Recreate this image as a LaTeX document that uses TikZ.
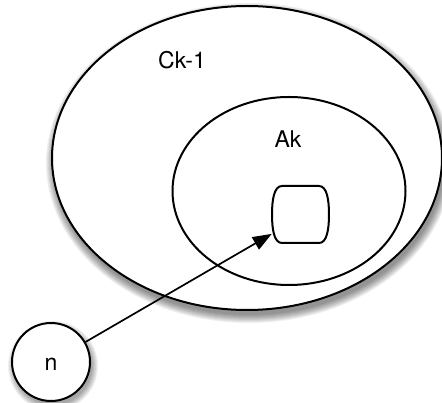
\documentclass[tikz,border=0pt]{standalone}
\usepackage{fontspec}
\setmainfont{TeX Gyre Heros}
\usetikzlibrary{shapes.geometric,arrows.meta}
\begin{document}
\begin{tikzpicture}[x=1pt,y=-1pt,
  setshape/.style={draw=black,line width=2pt,fill=white,inner sep=0pt},
  shadowlayer/.style={fill=black,fill opacity=0.06,draw=none},
  label/.style={font=\fontsize{23}{27}\selectfont,inner sep=0pt},
  link/.style={line width=1.7pt,-{Triangle[length=19pt,width=14pt]}}]
  \useasboundingbox (0,0) rectangle (442,403);

  % soft shadow under the outer set
  \foreach \r in {1,...,9}
    \fill[shadowlayer] (249,163) ellipse ({195+9-\r} and {152+9-\r});

  % outer set C_{k-1}
  \node[setshape,ellipse,minimum width=390pt,minimum height=304pt]
    (outer) at (247,158) {};
  \node[label] (ck) at (182,60) {Ck-1};

  % inner set A_k
  \node[setshape,ellipse,minimum width=233pt,minimum height=188pt]
    (inner) at (289,191) {};
  \node[label] (ak) at (288,139) {Ak};

  % element inside A_k: flat top and bottom, bulging sides
  \node[inner sep=0pt,minimum width=57pt,minimum height=57pt]
    (elem) at (300.5,214.5) {};
  \draw[line width=2pt,fill=white]
    (282,186) -- (319,186)
    .. controls (327,186) and (329,200) .. (329,214.5)
    .. controls (329,229) and (327,243) .. (319,243)
    -- (282,243)
    .. controls (274,243) and (272,229) .. (272,214.5)
    .. controls (272,200) and (274,186) .. cycle;

  % soft shadow under element n
  \foreach \r in {1,...,7}
    \fill[shadowlayer] (53,366) circle ({39+7-\r});

  % element n
  \node[setshape,circle,minimum size=78pt] (n) at (51,362) {};
  \node[label] (nlab) at (51,364) {n};

  \draw[link] (n) -- (elem.214);
\end{tikzpicture}
\end{document}
